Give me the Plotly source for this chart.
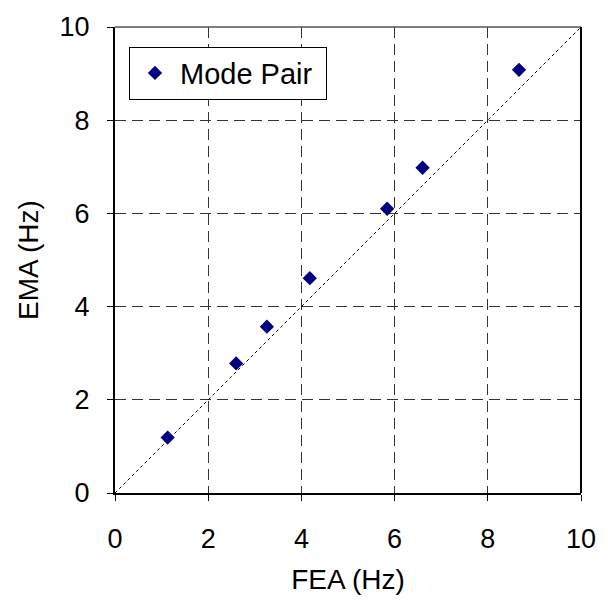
import plotly.graph_objects as go

fea = [1.13, 2.60, 3.26, 4.18, 5.84, 6.60, 8.67]
ema = [1.19, 2.78, 3.57, 4.61, 6.10, 6.98, 9.08]
diag_x = [0, 10]
diag_y = [0, 10]
tick_vals = [0, 2, 4, 6, 8, 10]

fig = go.Figure()
fig.add_trace(go.Scatter(x=diag_x, y=diag_y, mode="lines",
                         line=dict(color="black", width=1, dash="dot"),
                         showlegend=False, hoverinfo="skip"))
fig.add_trace(go.Scatter(x=fea, y=ema, mode="markers", name="Mode Pair\u00a0",
                         marker=dict(symbol="diamond", size=11, color="#000080")))

font = "Liberation Sans, Arial, sans-serif"
axis_common = dict(range=[0, 10], tickvals=tick_vals, showgrid=True,
                   gridcolor="#333", griddash="11px,6px", gridwidth=1,
                   zeroline=False, showline=True, linecolor="black", linewidth=2,
                   ticks="outside", ticklen=6, tickcolor="black",
                   tickfont=dict(size=27, color="black", family=font),
                   mirror=False)

fig.update_xaxes(**axis_common, ticklabelstandoff=15,
                 title=dict(text="FEA (Hz)", font=dict(size=28, family=font, color="black"), standoff=16))
fig.update_yaxes(**axis_common, ticklabelstandoff=12,
                 title=dict(text="EMA (Hz)", font=dict(size=28, family=font, color="black"), standoff=13))

# top and right border of plot area
fig.add_shape(type="line", xref="paper", yref="paper", x0=0, x1=1, y0=1, y1=1,
              line=dict(color="#555", width=1.5))
fig.add_shape(type="line", xref="paper", yref="paper", x0=1, x1=1, y0=0, y1=1,
              line=dict(color="black", width=2))

fig.update_layout(
    width=608, height=608,
    margin=dict(l=115, r=23, t=25, b=115),
    plot_bgcolor="white", paper_bgcolor="white",
    font=dict(family=font, color="black"),
    legend=dict(x=0.03, y=0.958, xanchor="left", yanchor="top",
                bordercolor="black", borderwidth=1, bgcolor="white",
                font=dict(size=29, family=font, color="black"),
                itemwidth=40),
)

fig.write_html("out.html")
